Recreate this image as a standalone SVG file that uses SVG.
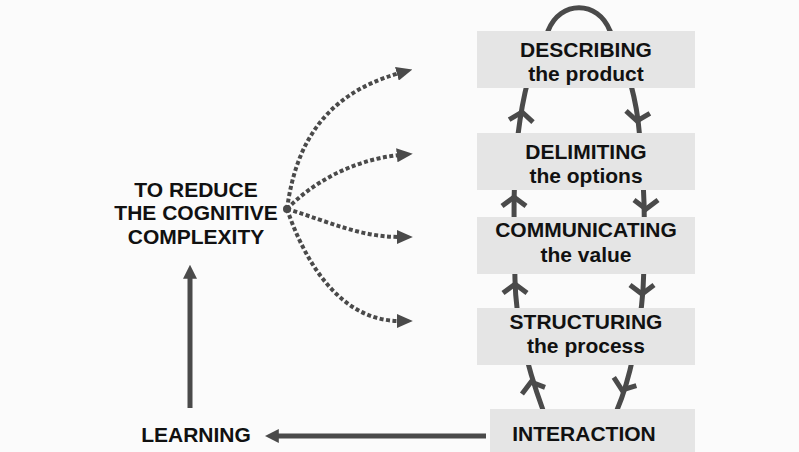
<svg xmlns="http://www.w3.org/2000/svg" width="799" height="452" viewBox="0 0 799 452">
<defs>
<style>
.bg{fill:#fbfbfb}
.box{fill:#e5e5e5}
.t{font-family:"Liberation Sans",Arial,Helvetica,sans-serif;font-weight:bold;font-size:21px;fill:#111;text-anchor:middle}
.loop{fill:none;stroke:#4a4a4a;stroke-width:5;stroke-linecap:butt}
.chev{fill:none;stroke:#4a4a4a;stroke-width:5;stroke-linejoin:miter}
.dot{fill:none;stroke:#4a4a4a;stroke-width:4;stroke-dasharray:4 2.5}
.solid{fill:none;stroke:#4a4a4a;stroke-width:5}
</style>
<marker id="tri" viewBox="0 0 10 10" refX="2" refY="5" markerWidth="16" markerHeight="14" markerUnits="userSpaceOnUse" orient="auto" preserveAspectRatio="none">
<path d="M0,0 L10,5 L0,10 z" fill="#4a4a4a"/>
</marker>
<marker id="tri2" viewBox="0 0 10 10" refX="2" refY="5" markerWidth="14" markerHeight="14" markerUnits="userSpaceOnUse" orient="auto" preserveAspectRatio="none">
<path d="M0,0 L10,5 L0,10 z" fill="#4a4a4a"/>
</marker>
<path id="chevUp" d="M-12,9 L0,0 L12,9"/>
</defs>
<rect class="bg" x="0" y="0" width="799" height="452"/>

<g id="connectors">
<path class="loop" d="M543,410 C532,380 516,330 515,280 C514,230 512,170 520,120 C523,100 530,60 548,31 C560,0 598,0 610,31 C625,60 634,90 638,120 C644,170 646,230 643,290 C640,330 630,380 617,410"/>
<use href="#chevUp" class="chev" transform="translate(522,112) rotate(6)"/>
<use href="#chevUp" class="chev" transform="translate(514,197)"/>
<use href="#chevUp" class="chev" transform="translate(515,284)"/>
<use href="#chevUp" class="chev" transform="translate(531,382) rotate(-16)"/>
<use href="#chevUp" class="chev" transform="translate(637,121) rotate(186)"/>
<use href="#chevUp" class="chev" transform="translate(646,209) rotate(180)"/>
<use href="#chevUp" class="chev" transform="translate(642,294) rotate(180)"/>
<use href="#chevUp" class="chev" transform="translate(622,390) rotate(200)"/>

<path class="dot" d="M287,209 C295,150 320,95 400,73" marker-end="url(#tri)"/>
<path class="dot" d="M287,209 C310,185 350,160 400,155" marker-end="url(#tri)"/>
<path class="dot" d="M287,209 C330,222 360,237 400,237" marker-end="url(#tri)"/>
<path class="dot" d="M287,209 C305,262 340,321 400,321" marker-end="url(#tri)"/>
<circle cx="287" cy="209" r="4" fill="#4a4a4a"/>

<path class="solid" d="M486,436 L276,436" marker-end="url(#tri2)"/>
<path class="solid" d="M190,408 L190,276" marker-end="url(#tri2)"/>
</g>

<g id="describing">
<rect class="box" x="477" y="31" width="218" height="57"/>
<text class="t" x="586" y="57">DESCRIBING</text>
<text class="t" x="586" y="81">the product</text>
</g>
<g id="delimiting">
<rect class="box" x="477" y="133" width="218" height="57"/>
<text class="t" x="586" y="159">DELIMITING</text>
<text class="t" x="586" y="183">the options</text>
</g>
<g id="communicating">
<rect class="box" x="477" y="217" width="218" height="57"/>
<text class="t" x="586" y="237">COMMUNICATING</text>
<text class="t" x="586" y="262">the value</text>
</g>
<g id="structuring">
<rect class="box" x="477" y="308" width="218" height="57"/>
<text class="t" x="586" y="329">STRUCTURING</text>
<text class="t" x="586" y="353">the process</text>
</g>
<g id="interaction">
<rect class="box" x="490" y="409" width="205" height="43"/>
<text class="t" x="584" y="441">INTERACTION</text>
</g>
<g id="learning">
<text class="t" x="196" y="442">LEARNING</text>
</g>
<g id="reduce">
<text class="t" x="196" y="197">TO REDUCE</text>
<text class="t" x="196" y="220">THE COGNITIVE</text>
<text class="t" x="196" y="244">COMPLEXITY</text>
</g>
</svg>
